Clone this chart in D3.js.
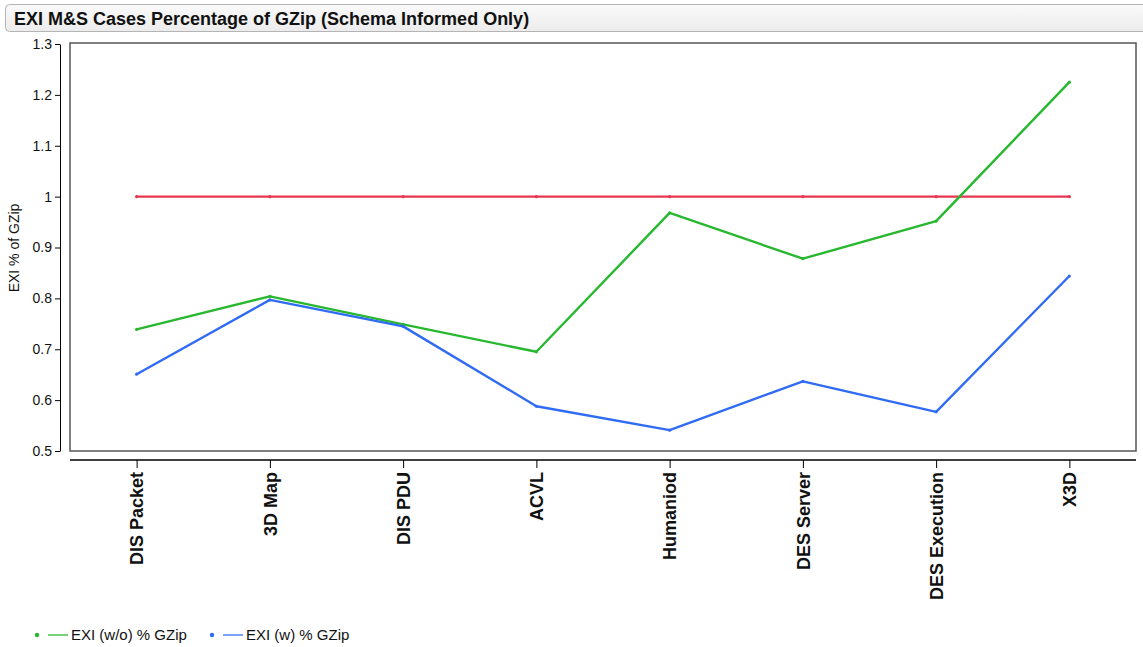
<!DOCTYPE html>
<html><head><meta charset="utf-8">
<script src="https://cdn.jsdelivr.net/npm/d3@7/dist/d3.min.js"></script>
<style>body{margin:0;background:#fff;font-family:"Liberation Sans",Arial,sans-serif;}</style>
</head><body><svg id="c" width="1143" height="647"></svg>
<script>
const categories = ["DIS Packet","3D Map","DIS PDU","ACVL","Humaniod","DES Server","DES Execution","X3D"];
const woValues = [0.739,0.804,0.749,0.695,0.968,0.878,0.952,1.225];
const wValues = [0.651,0.797,0.745,0.588,0.541,0.637,0.577,0.844];
const gzipValues = [1,1,1,1,1,1,1,1];
const yTicks = [0.5,0.6,0.7,0.8,0.9,1,1.1,1.2,1.3];
const seriesNames = ["EXI (w/o) % GZip","EXI (w) % GZip"];
const colors = {wo:"#27b82f", w:"#2f6bf5", gz:"#e8364f"};

const svg = d3.select("#c");
const font = '"Liberation Sans",Arial,sans-serif';

// title box
const defs = svg.append("defs");
const g = defs.append("linearGradient").attr("id","tg").attr("x1",0).attr("y1",0).attr("x2",0).attr("y2",1);
g.append("stop").attr("offset","0").attr("stop-color","#fafafa");
g.append("stop").attr("offset","1").attr("stop-color","#ececec");
svg.append("rect").attr("x",5.5).attr("y",4.5).attr("width",1150).attr("height",27).attr("rx",4)
  .attr("fill","url(#tg)").attr("stroke","#b4b4b4");
svg.append("text").attr("x",14).attr("y",25).attr("font-family",font).attr("font-weight","bold")
  .attr("font-size",18).attr("fill","#111").text("EXI M&S Cases Percentage of GZip (Schema Informed Only)");

const L=70, R=1136, T=44, B=451;
const x = d3.scalePoint().domain(categories).range([L,R]).padding(0.5);
const y = d3.scaleLinear().domain([0.5,1.3]).range([B,T]);

// frame
svg.append("rect").attr("x",L).attr("y",T-1).attr("width",R-L).attr("height",B-T+1)
  .attr("fill","none").attr("stroke","#555").attr("stroke-width",1.5);

// y axis
const ya = svg.append("g").attr("transform","translate(60,0)")
  .call(d3.axisLeft(y).tickValues(yTicks).tickFormat(d3.format("~g")).tickSize(5).tickSizeOuter(0));
ya.select(".domain").attr("stroke","#000");
ya.selectAll("line").attr("stroke","#000");
ya.selectAll("text").attr("font-family",font).attr("font-size",14).attr("fill","#111").attr("x",-8);

svg.append("text").attr("transform","translate(19,248) rotate(-90)").attr("text-anchor","middle")
  .attr("font-family",font).attr("font-size",14).attr("fill","#111").text("EXI % of GZip");

// x axis
const xa = svg.append("g").attr("transform","translate(0,460)")
  .call(d3.axisBottom(x).tickSize(8).tickSizeOuter(0));
xa.select(".domain").attr("d",`M${L},0H${R}`).attr("stroke","#000").attr("stroke-width",1.5);
xa.selectAll("line").attr("stroke","#000");
xa.selectAll("text").attr("font-family",font).attr("font-size",18).attr("font-weight","bold").attr("fill","#111")
  .attr("transform","rotate(-90)").attr("text-anchor","end").attr("x",-12).attr("y",0).attr("dy","0.35em");

// lines
const line = d3.line().x((d,i)=>x(categories[i])).y(d=>y(d));
[[gzipValues,colors.gz],[woValues,colors.wo],[wValues,colors.w]].forEach(([vals,c])=>{
  svg.append("path").datum(vals).attr("d",line).attr("fill","none").attr("stroke",c).attr("stroke-width",2.4)
    .attr("stroke-linejoin","round");
  svg.append("g").selectAll("circle").data(vals).join("circle")
    .attr("cx",(d,i)=>x(categories[i])).attr("cy",d=>y(d)).attr("r",1.6).attr("fill",c);
});

// legend
const leg = [[seriesNames[0],colors.wo,37],[seriesNames[1],colors.w,212]];
leg.forEach(([name,c,lx])=>{
  svg.append("circle").attr("cx",lx).attr("cy",635).attr("r",2.2).attr("fill",c);
  svg.append("line").attr("x1",lx+11).attr("x2",lx+31).attr("y1",635).attr("y2",635).attr("stroke",c).attr("stroke-width",1.5).attr("opacity",0.85);
  svg.append("text").attr("x",lx+34).attr("y",640).attr("font-family",font).attr("font-size",15).attr("fill","#111").text(name);
});
</script></body></html>
